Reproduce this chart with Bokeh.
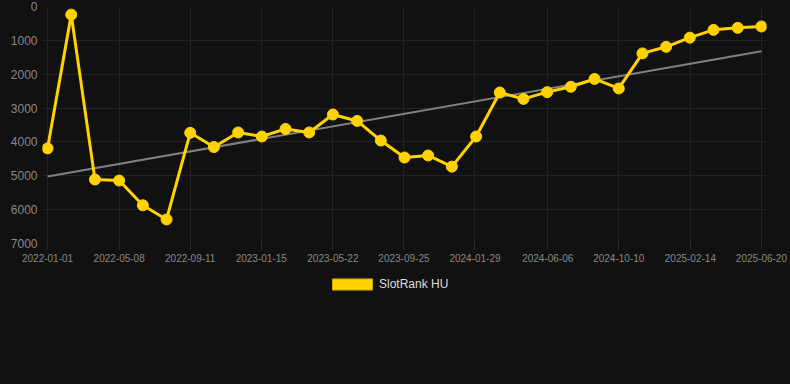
import pandas as pd
from bokeh.plotting import figure
from bokeh.layouts import column
from bokeh.models import (Range1d, FixedTicker, DatetimeTickFormatter, Legend,
                          LegendItem)
from bokeh.embed import file_html
from bokeh.resources import INLINE

# ---- data ----
dates = ["2022-01-01", "2022-02-12", "2022-03-26", "2022-05-08", "2022-06-19",
         "2022-07-31", "2022-09-11", "2022-10-23", "2022-12-05", "2023-01-16",
         "2023-02-27", "2023-04-10", "2023-05-22", "2023-07-04", "2023-08-15",
         "2023-09-26", "2023-11-07", "2023-12-19", "2024-01-31", "2024-03-13",
         "2024-04-24", "2024-06-05", "2024-07-17", "2024-08-28", "2024-10-10",
         "2024-11-21", "2025-01-02", "2025-02-13", "2025-03-27", "2025-05-09",
         "2025-06-20"]
ranks = [4190, 240, 5110, 5140, 5870, 6290, 3730, 4150, 3720, 3840,
         3615, 3720, 3190, 3380, 3960, 4460, 4400, 4730, 3840, 2540,
         2730, 2530, 2370, 2140, 2420, 1385, 1190, 920, 690, 630, 590]
trend_dates = ["2022-01-01", "2025-06-20"]
trend_values = [5020, 1320]
x_tick_labels = ["2022-01-01", "2022-05-08", "2022-09-11", "2023-01-15",
                 "2023-05-22", "2023-09-25", "2024-01-29", "2024-06-06",
                 "2024-10-10", "2025-02-14", "2025-06-20"]
y_ticks = [0, 1000, 2000, 3000, 4000, 5000, 6000, 7000]
series_name = "SlotRank HU"

BG = "#111111"
YEL = "#FFD200"
FONT = "Liberation Sans"

x = pd.to_datetime(dates)
tx = pd.to_datetime(trend_dates)
ticks_ms = [pd.Timestamp(d).value / 1e6 for d in x_tick_labels]
pad = pd.Timedelta(days=9)

p = figure(width=790, height=270, x_axis_type="datetime",
           output_backend="svg", toolbar_location=None,
           x_range=Range1d(x.min() - pad, x.max() + pad),
           y_range=Range1d(7000, 0),
           background_fill_color=BG, border_fill_color=None,
           min_border_left=42, min_border_right=24,
           min_border_top=6, min_border_bottom=27,
           styles={"background-color": BG})
p.outline_line_color = None

p.xaxis.ticker = FixedTicker(ticks=ticks_ms)
p.xaxis.formatter = DatetimeTickFormatter(
    milliseconds="%Y-%m-%d", seconds="%Y-%m-%d", minsec="%Y-%m-%d",
    minutes="%Y-%m-%d", hourmin="%Y-%m-%d", hours="%Y-%m-%d",
    days="%Y-%m-%d", months="%Y-%m-%d", years="%Y-%m-%d")
p.yaxis.ticker = FixedTicker(ticks=y_ticks)

for ax in (p.xaxis, p.yaxis):
    ax.axis_line_color = None
    ax.minor_tick_line_color = None
    ax.major_label_text_color = "#888888"
    ax.major_label_text_font = FONT
    ax.major_tick_in = 0
p.xaxis.major_tick_out = 6
p.xaxis.major_tick_line_color = "#2a2a2a"
p.xaxis.major_label_standoff = 4
p.xaxis.major_label_text_font_size = "10px"
p.yaxis.major_tick_out = 0
p.yaxis.major_tick_line_color = None
p.yaxis.major_label_standoff = 5
p.yaxis.major_label_text_font_size = "12px"

p.xgrid.ticker = FixedTicker(ticks=ticks_ms)
p.ygrid.ticker = FixedTicker(ticks=y_ticks)
p.grid.grid_line_color = "#232323"

p.line(tx, trend_values, line_color="#808080", line_width=2)
p.line(x, ranks, line_color=YEL, line_width=3)
p.scatter(x, ranks, size=11, fill_color=YEL, line_color=YEL)

# ---- legend strip below the chart ----
lg = figure(width=790, height=114, output_backend="svg", toolbar_location=None,
            x_range=Range1d(0, 1), y_range=Range1d(0, 1),
            x_axis_location=None, y_axis_location=None,
            background_fill_color=None, border_fill_color=None,
            min_border=0, styles={"background-color": BG})
lg.outline_line_color = None
lg.grid.visible = False
swatch = lg.quad(left=[0], right=[1], top=[1], bottom=[0], fill_color=YEL,
                 line_color="#C9A500", line_width=1, visible=False)

legend = Legend(items=[LegendItem(label=series_name, renderers=[swatch])],
                location=(285, 93), orientation="horizontal",
                margin=0, padding=0, spacing=0,
                glyph_width=50, glyph_height=14, label_height=14,
                label_standoff=2, inactive_fill_alpha=0,
                label_text_font=FONT, label_text_font_size="12px",
                label_text_color="#dddddd",
                background_fill_alpha=0, border_line_color=None)
lg.add_layout(legend, "center")

layout = column(p, lg, spacing=0, styles={"background-color": BG})
open("out.html", "w").write(file_html(layout, INLINE))
